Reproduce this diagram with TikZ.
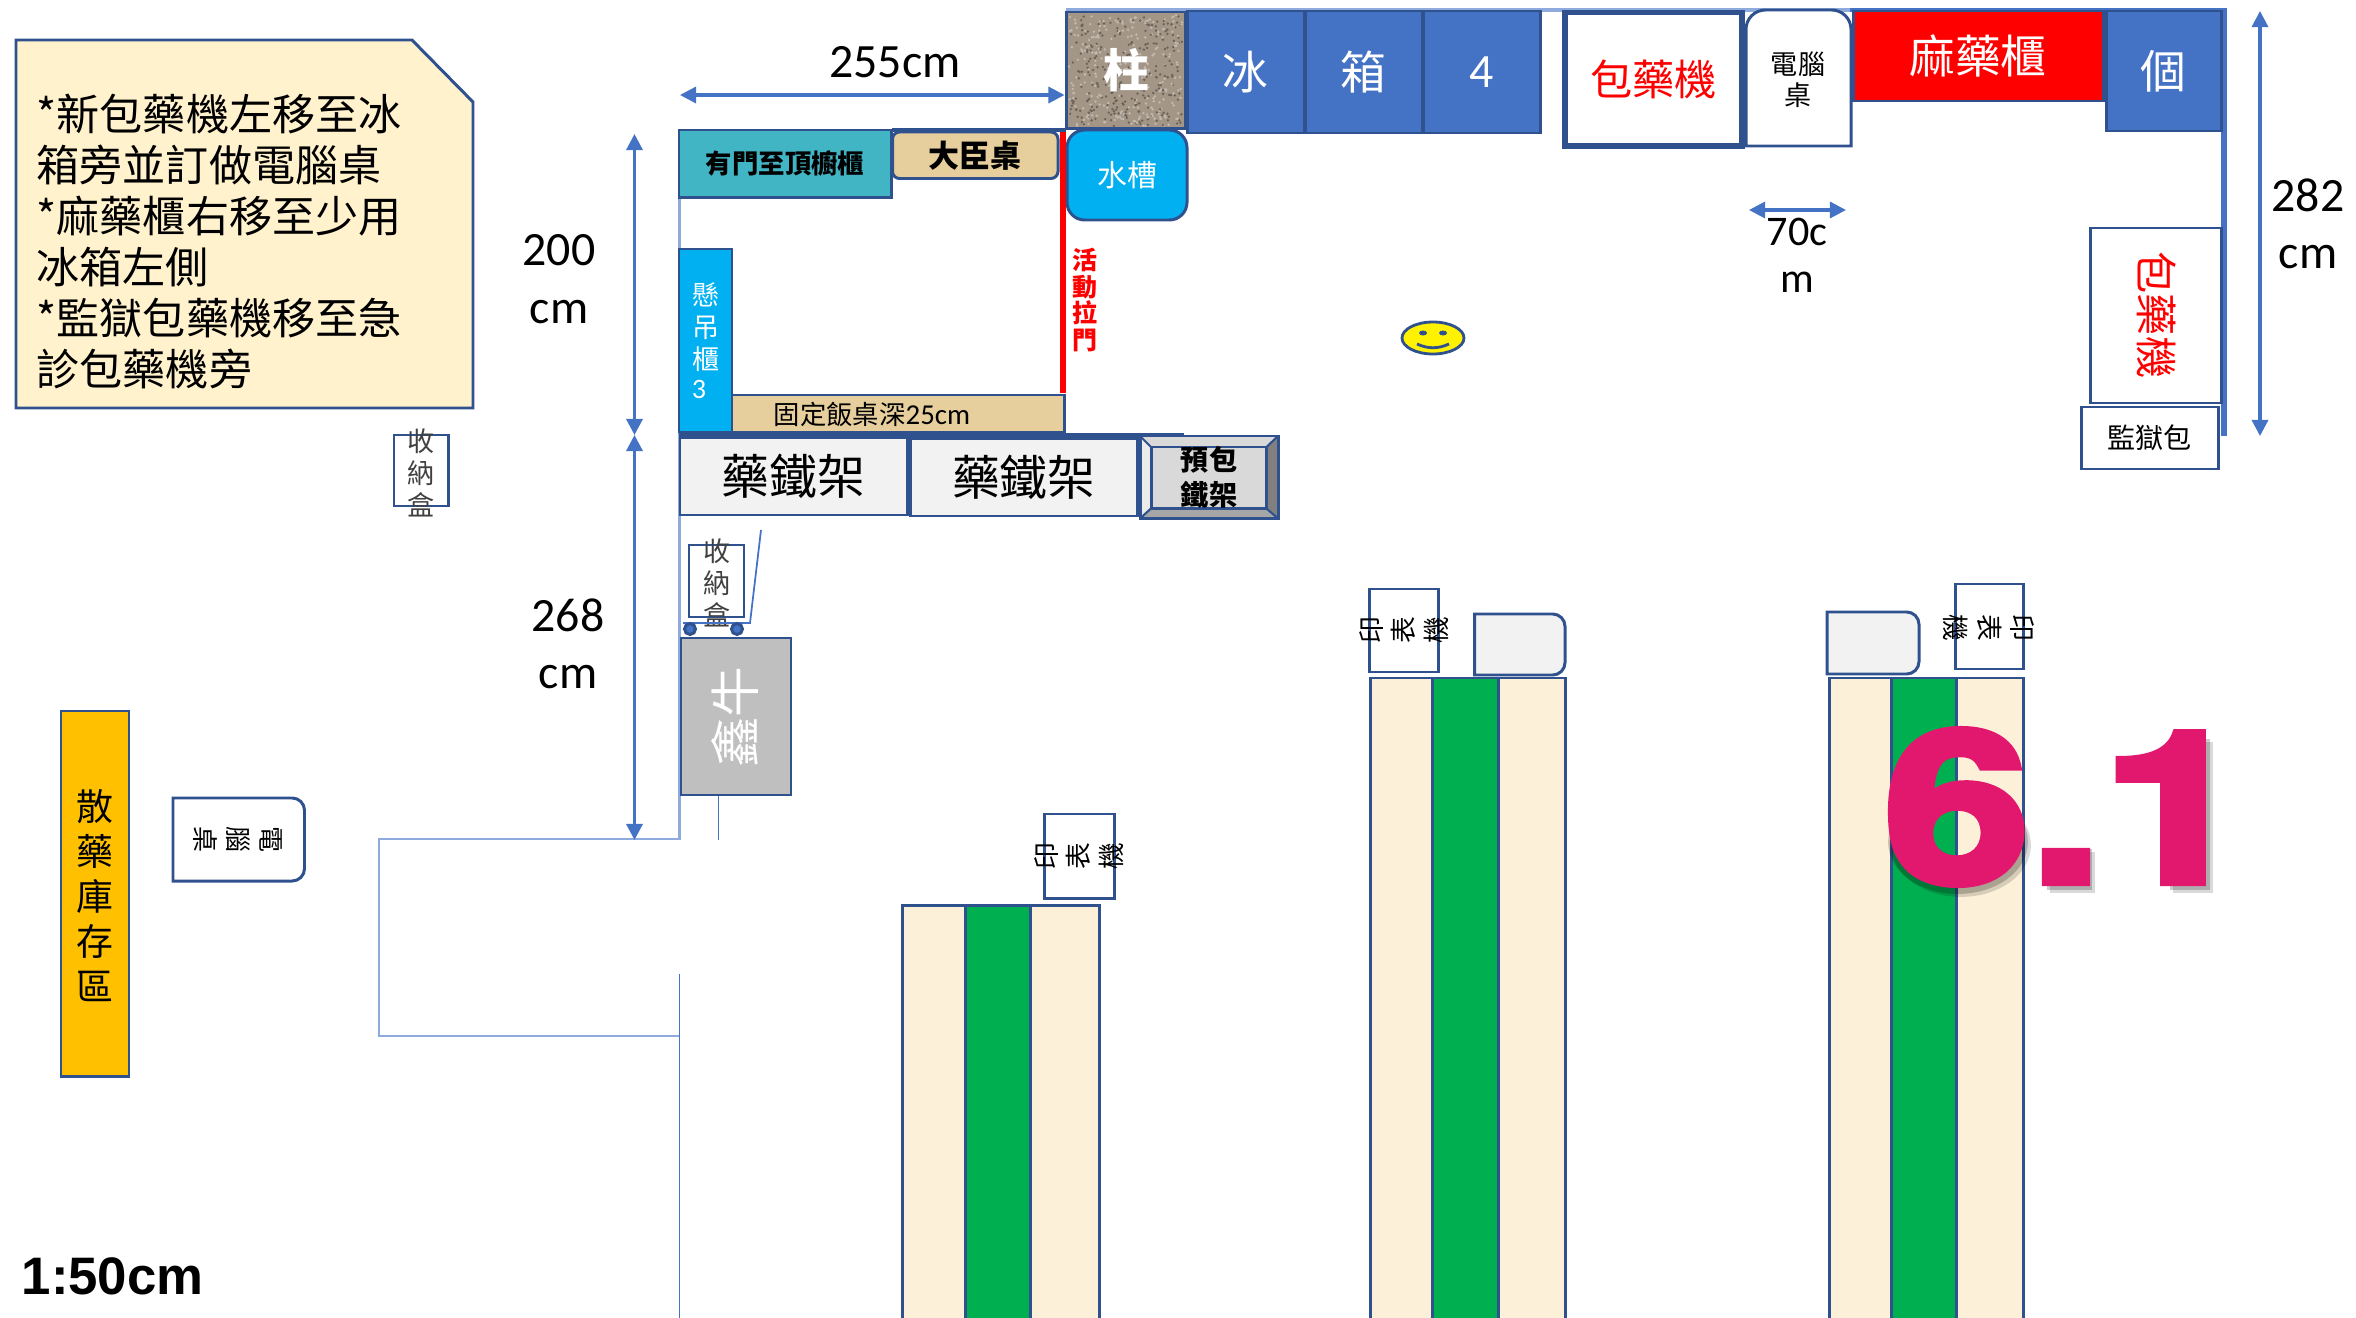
\documentclass[tikz,border=0pt]{standalone}
\usepackage{fontspec}
\setmainfont{Carlito}
\newfontfamily\cjk{Noto Sans CJK TC}
\newfontfamily\arialb{Liberation Sans}
\newfontfamily\heavysans[BoldFeatures={FakeBold=3.5}]{TeX Gyre Heros}
\usepackage{tikz}
\usetikzlibrary{arrows.meta}
\definecolor{edgeblue}{HTML}{2F528F}
\definecolor{wallblue}{HTML}{4472C4}
\definecolor{thinblue}{HTML}{8FAADC}
\definecolor{notecream}{HTML}{FFF2CC}
\definecolor{skyblue}{HTML}{00B0F0}
\definecolor{woodtan}{HTML}{E6CF9C}
\definecolor{cupboard}{HTML}{42B5C4}
\definecolor{paperbeige}{HTML}{FCF0D8}
\definecolor{tablegreen}{HTML}{00B050}
\definecolor{sixpink}{HTML}{E2186F}
\definecolor{stoneb}{HTML}{A39687}
\definecolor{amber}{HTML}{FFC000}
\tikzset{
    box/.style={draw=edgeblue, line width=.85pt},
    zh/.style 2 args={font=\cjk\fontsize{#1}{#2}\selectfont, align=center, inner sep=0pt},
    dimtxt/.style={font=\fontsize{13.6}{16.3}\selectfont, align=center, inner sep=0pt},
    dimarrow/.style={wallblue, line width=.9pt, {Triangle[width=4.6pt,length=4.6pt]}-{Triangle[width=4.6pt,length=4.6pt]}},
    thinwall/.style={thinblue, line width=.6pt},
}
\begin{document}
\begin{tikzpicture}[x=0.01cm, y=-0.01cm]
    \useasboundingbox (0,0) rectangle (2356,1318);

    % note
    \filldraw[box, fill=notecream] (16,40) -- (412,40) -- (473,102) -- (473,408) -- (16,408) -- cycle;
    \node[zh={12.25}{14.5}, align=left, anchor=west] (note) at (36,242) {*新包藥機左移至冰\\箱旁並訂做電腦桌\\*麻藥櫃右移至少用\\冰箱左側\\*監獄包藥機移至急\\診包藥機旁};

    % walls
    \draw[thinwall] (679.5,130) -- (679.5,839) -- (379,839) -- (379,1036) -- (679.5,1036);
    \draw[wallblue, line width=.5pt] (679.5,974) -- (679.5,1318);
    \draw[wallblue, line width=.5pt] (718.5,795) -- (718.5,840);
    \draw[thinwall, line width=.9pt] (1066,10) -- (1860,10);
    \draw[wallblue, line width=1.2pt] (1850,10) -- (2227,10);
    \fill[wallblue] (2221,10) rectangle (2227,436);
    \draw[edgeblue, line width=.9pt] (892,130) -- (1066,130);
    \draw[edgeblue, line width=1.2pt] (679,435) -- (1184,435);

    % dimensions
    \draw[dimarrow] (680,95) -- (1064.5,95);
    \node[dimtxt] (width255) at (895,62) {255cm};
    \draw[dimarrow] (634.5,134) -- (634.5,435);
    \node[dimtxt] (depth200) at (559,279) {200\\cm};
    \draw[dimarrow] (634.5,435) -- (634.5,840);
    \node[dimtxt] (depth268) at (568,644) {268\\cm};
    \draw[dimarrow] (2260,11) -- (2260,436);
    \node[dimtxt] (depth282) at (2308,224) {282\\cm};
    \draw[dimarrow] (1749,210) -- (1846,210);
    \node[dimtxt, font=\fontsize{12}{13.4}\selectfont] (width70) at (1797,255) {70c\\m};

    % pillar and fridge
    \filldraw[box, fill=stoneb] (1066.5,12) rectangle (1185,128.5);
    \pgfmathsetseed{17}
    \foreach \i in {1,...,520} {
        \pgfmathsetmacro{\px}{1069+rnd*113}
        \pgfmathsetmacro{\py}{15+rnd*111}
        \pgfmathsetmacro{\ps}{ifthenelse(mod(\i,2)==0,"black!35!stoneb","white!35!stoneb")}
        \fill[\ps] (\px,\py) circle (1.3);
    }
    \node[zh={13}{13}, font=\cjk\bfseries\fontsize{13}{13}\selectfont, white] (pillar) at (1126,70) {柱};
    \filldraw[box, fill=wallblue] (1187,11) rectangle (1304,133) node[midway, zh={13}{13}, white] (fridgeA) {冰};
    \filldraw[box, fill=wallblue] (1305,11) rectangle (1422.5,133) node[midway, zh={13}{13}, white] (fridgeB) {箱};
    \filldraw[box, fill=wallblue] (1423,11) rectangle (1540,133) node[midway, dimtxt, white] (fridgeC) {4};

    % top row
    \filldraw[box, line width=1.6pt, fill=white] (1565,12.5) rectangle (1742,146) node[midway, zh={12}{12}, red] (packer) {包藥機};
    \filldraw[box, fill=white] (1746,146) -- (1746,40) [rounded corners=5.5pt] -- (1746,10) -- (1851,10) [sharp corners] -- (1851,146) -- cycle;
    \node[zh={7.7}{8.8}] (pcdesk) at (1798,80) {電腦\\桌};
    \filldraw[box, fill=red] (1853,11) rectangle (2103,101) node[midway, zh={13}{13}, white] (narcotic) {麻藥櫃};
    \filldraw[box, fill=wallblue] (2106.5,11) rectangle (2221,131) node[midway, zh={13}{13}, white] (unit) {個};

    % right side
    \filldraw[box, fill=white] (2090,228) rectangle (2221,403);
    \node[zh={12}{12}, red, rotate=-90] (packerB) at (2157,315) {包藥機};
    \filldraw[box, fill=white] (2081,407) rectangle (2218,469) node[midway, zh={8}{8}] (prison) {監獄包};

    % smiley
    \filldraw[draw=edgeblue, line width=.8pt, fill=yellow] (1433,338) ellipse (31 and 16);
    \fill[edgeblue] (1423,333) ellipse (4 and 2.5);
    \fill[edgeblue] (1443,333) ellipse (4 and 2.5);
    \draw[edgeblue, line width=.8pt] (1417,344) .. controls (1428,349) and (1438,349) .. (1449,344);

    % kitchen corner
    \filldraw[box, fill=cupboard] (679,130) rectangle (891,197.5) node[midway, zh={7.5}{7.5}, font=\cjk\bfseries\fontsize{7.5}{7.5}\selectfont] (cabinet) {有門至頂櫥櫃};
    \filldraw[box, fill=woodtan, rounded corners=2pt] (892.5,132) rectangle (1058,178.5) node[midway, zh={8.8}{8.8}, font=\cjk\bfseries\fontsize{8.8}{8.8}\selectfont] (desk) {大臣桌};
    \fill[red] (1060,132) rectangle (1066,393);
    \filldraw[box, fill=skyblue, rounded corners=5pt] (1067,130) rectangle (1187,220) node[midway, zh={8.5}{8.5}, white] (sink) {水槽};
    \node[zh={7.1}{7.6}, red, font=\cjk\bfseries\fontsize{7.1}{7.6}\selectfont] (slidedoor) at (1085,300) {活\\動\\拉\\門};
    \filldraw[box, fill=woodtan] (732,395) rectangle (1064.5,432);
    \node[zh={7.5}{7.5}] (dining) at (872,414) {固定飯桌深{\fontfamily{\rmdefault}\selectfont\fontsize{8.2}{8.2}\selectfont 25cm}};
    \filldraw[box, fill=skyblue] (679,249) rectangle (732,432);
    \node[zh={7.7}{9.1}, white] (hanging) at (706,327) {懸\\吊\\櫃};
    \node[dimtxt, font=\fontsize{8}{8}\selectfont, white] (hangnum) at (699,389) {3};

    % iron racks
    \filldraw[box, fill=black!5] (680,437.5) rectangle (907,515) node[midway, zh={13.6}{13.6}] (rackA) {藥鐵架};
    \filldraw[box, fill=black!5] (910,438.5) rectangle (1137.5,516) node[midway, zh={13.6}{13.6}] (rackB) {藥鐵架};
    \filldraw[box, fill=black!15] (1140,436) rectangle (1278,518.5);
    \fill[black!8] (1140,436) -- (1151,447) -- (1151,508.5) -- (1140,518.5) -- cycle;
    \fill[black!50] (1278,436) -- (1266.5,447) -- (1266.5,508.5) -- (1278,518.5) -- cycle;
    \fill[black!35] (1140,518.5) -- (1151,508.5) -- (1266.5,508.5) -- (1278,518.5) -- cycle;
    \draw[box] (1140,436) rectangle (1278,518.5);
    \draw[box] (1151,447) rectangle (1266.5,508.5);
    \draw[edgeblue, line width=.6pt] (1140,436) -- (1151,447) (1278,436) -- (1266.5,447) (1140,518.5) -- (1151,508.5) (1278,518.5) -- (1266.5,508.5);
    \node[zh={8}{10}, font=\cjk\bfseries\fontsize{8}{10}\selectfont] (prerack) at (1209,477.5) {預包\\鐵架};

    % storage boxes
    \filldraw[box, fill=white] (394,435) rectangle (448.5,506);
    \node[zh={7.7}{9.1}, black!75] (storeA) at (421,473) {收\\納\\盒};
    \filldraw[box, fill=white] (689,545) rectangle (744,617);
    \node[zh={7.7}{9.1}, black!75] (storeB) at (717,583) {收\\納\\盒};
    \draw[wallblue, line width=.5pt] (683,623) -- (750,623) -- (761,530);
    \filldraw[box, fill=wallblue] (690,629) circle (5.5);
    \filldraw[box, fill=wallblue] (737,629) circle (5.5);

    % grey cart
    \filldraw[box, fill=black!25] (681,638) rectangle (791,795);
    \node[zh={14.4}{14.4}, white, rotate=90] (xinniu) at (735,717) {鑫牛};

    % left side
    \filldraw[box, fill=amber] (61,711) rectangle (129,1076);
    \node[zh={10.5}{12.8}] (powder) at (95,896) {散\\藥\\庫\\存\\區};
    \filldraw[box, fill=white] (173,798) -- (173,881) [rounded corners=3.5pt] -- (304.5,881) -- (304.5,798) [sharp corners] -- cycle;
    \node[zh={7.4}{9.3}, rotate=-90] (pcdeskB) at (238,839.5) {電\\腦\\桌};

    % work tables
    \foreach \xa/\xb/\xc/\xd/\ya in {902.5/965/1030.5/1099/905, 1370/1432.5/1498/1565/678, 1829/1891/1956.5/2023.5/678} {
        \filldraw[box, fill=paperbeige] (\xa,\ya) rectangle (\xb,1325);
        \filldraw[box, fill=tablegreen] (\xb,\ya) rectangle (\xc,1325);
        \filldraw[box, fill=paperbeige] (\xc,\ya) rectangle (\xd,1325);
    }

    % printers
    \filldraw[box, fill=white] (1044.5,814) rectangle (1114,898);
    \node[zh={7.6}{9.2}, rotate=90] (printerA) at (1079,856) {印\\表\\機};
    \filldraw[box, fill=white] (1369,589) rectangle (1438,672);
    \node[zh={7.6}{9.2}, rotate=90] (printerB) at (1404,630) {印\\表\\機};
    \filldraw[box, fill=white] (1955,584) rectangle (2023.5,669);
    \node[zh={7.6}{9.6}, rotate=-90] (printerC) at (1989,628) {印\\表\\機};
    \filldraw[box, fill=black!5] (1474.5,614) [rounded corners=3.5pt] -- (1565,614) -- (1565,675) [sharp corners] -- (1474.5,675) -- cycle;
    \filldraw[box, fill=black!5] (1827,612) [rounded corners=3.5pt] -- (1919,612) -- (1919,674) [sharp corners] -- (1827,674) -- cycle;

    % big number and scale
    \foreach \off/\op in {7/.15, 4/.2} {
        \begin{scope}[shift={(\off,\off)}, black, opacity=\op]
            \draw[line width=4.5pt] (1954,838) ellipse (62 and 44);
            \fill (2043,845) rectangle (2088,886);
            \fill (2166,735) rectangle (2206,886);
        \end{scope}
    }
    \node[inner sep=0pt, sixpink, font=\heavysans\bfseries\fontsize{60}{60}\selectfont] (version) at (2066,807) {\scalebox{1.24}[1]{6.1}};
    \node[inner sep=0pt, anchor=west, font=\arialb\bfseries\fontsize{15}{15}\selectfont] (scaletxt) at (21,1276) {1:50cm};
\end{tikzpicture}
\end{document}
